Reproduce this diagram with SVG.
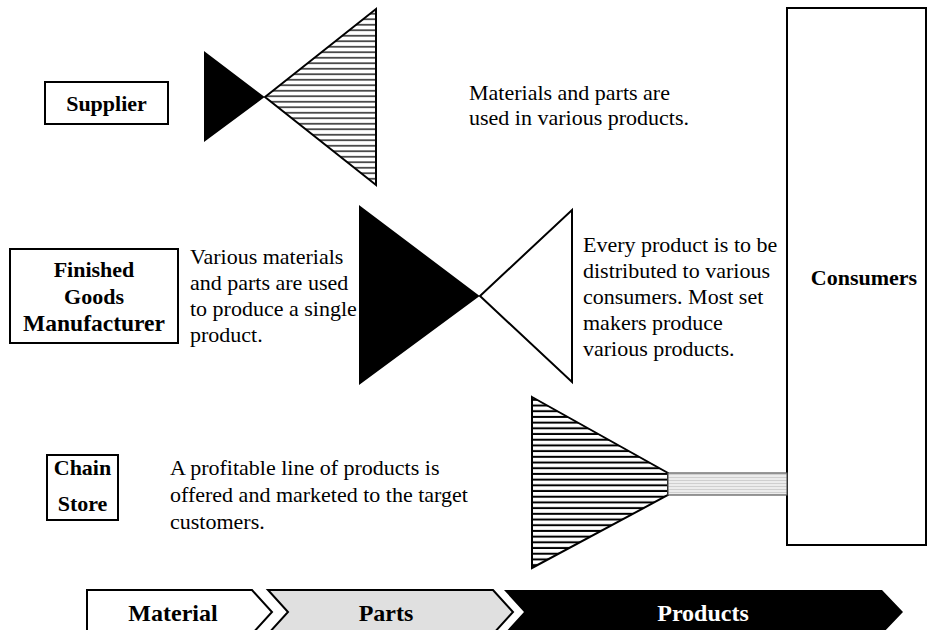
<svg xmlns="http://www.w3.org/2000/svg" width="930" height="630" viewBox="0 0 930 630">
  <style>
    .box { fill: #ffffff; stroke: #000000; stroke-width: 2; }
    .lbl { font-family: "Liberation Serif", "Times New Roman", serif; font-weight: bold; font-size: 22px; fill: #000000; text-anchor: middle; }
    .note { font-family: "Liberation Serif", "Times New Roman", serif; font-size: 22px; fill: #000000; }
    .tri { stroke: #000000; stroke-width: 2; stroke-linejoin: miter; }
    .stage { font-family: "Liberation Serif", "Times New Roman", serif; font-weight: bold; font-size: 24px; text-anchor: middle; }
  </style>
  <defs>
    <pattern id="hatchFine" patternUnits="userSpaceOnUse" width="10" height="5.5">
      <rect width="10" height="5.5" fill="#ffffff"/>
      <line x1="0" y1="2.75" x2="10" y2="2.75" stroke="#000000" stroke-width="1.3"/>
    </pattern>
    <pattern id="hatchBold" patternUnits="userSpaceOnUse" width="10" height="5.7" y="397">
      <rect width="10" height="5.7" fill="#ffffff"/>
      <line x1="0" y1="2.8" x2="10" y2="2.8" stroke="#000000" stroke-width="2"/>
    </pattern>
    <pattern id="hatchPale" patternUnits="userSpaceOnUse" width="10" height="3" y="473">
      <rect width="10" height="3" fill="#ececec"/>
      <line x1="0" y1="1.5" x2="10" y2="1.5" stroke="#c8c8c8" stroke-width="0.8"/>
    </pattern>
  </defs>

  <!-- Supplier row -->
  <g id="supplier">
    <rect class="box" x="45" y="82" width="123" height="42"/>
    <text class="lbl" x="106.5" y="111">Supplier</text>
  </g>
  <g id="supplier-shape">
    <polygon class="tri" points="205,53 263,97 205,140" fill="#000000"/>
    <polygon class="tri" points="265,97 376,9 376,185" fill="url(#hatchFine)"/>
  </g>
  <g id="supplier-note">
    <text class="note" x="469" y="100">Materials and parts are</text>
    <text class="note" x="469" y="125">used in various products.</text>
  </g>

  <!-- Finished goods manufacturer row -->
  <g id="manufacturer">
    <rect class="box" x="10" y="249" width="168" height="94"/>
    <text class="lbl" x="94" y="277">Finished</text>
    <text class="lbl" x="94" y="304">Goods</text>
    <text class="lbl" x="94" y="331" style="font-size:23.5px">Manufacturer</text>
  </g>
  <g id="manufacturer-note-in">
    <text class="note" x="190" y="264">Various materials</text>
    <text class="note" x="190" y="290">and parts are used</text>
    <text class="note" x="190" y="316">to produce a single</text>
    <text class="note" x="190" y="342">product.</text>
  </g>
  <g id="manufacturer-shape">
    <polygon class="tri" points="360,207 478,296 360,383" fill="#000000"/>
    <polygon class="tri" points="480,296 572,210 572,382" fill="#ffffff"/>
  </g>
  <g id="manufacturer-note-out">
    <text class="note" x="583" y="252">Every product is to be</text>
    <text class="note" x="583" y="278">distributed to various</text>
    <text class="note" x="583" y="304">consumers. Most set</text>
    <text class="note" x="583" y="330">makers produce</text>
    <text class="note" x="583" y="356">various products.</text>
  </g>

  <!-- Chain store row -->
  <g id="chain-store">
    <rect class="box" x="47" y="455" width="71" height="65"/>
    <text class="lbl" x="82.5" y="475">Chain</text>
    <text class="lbl" x="82.5" y="511">Store</text>
  </g>
  <g id="chain-store-note">
    <text class="note" x="170" y="475">A profitable line of products is</text>
    <text class="note" x="170" y="502">offered and marketed to the target</text>
    <text class="note" x="170" y="529">customers.</text>
  </g>
  <g id="chain-store-shape">
    <polygon class="tri" points="532,397 668,473 668,495 532,568" fill="url(#hatchBold)"/>
  </g>

  <!-- Consumers -->
  <g id="consumers">
    <rect class="box" x="787" y="8" width="139" height="537"/>
    <text class="lbl" x="864" y="285">Consumers</text>
  </g>

  <!-- Connectors -->
  <g id="connectors">
    <rect x="668" y="473" width="119" height="22" fill="url(#hatchPale)" stroke="#555555" stroke-width="1.2"/>
  </g>

  <!-- Value chain stages -->
  <g id="stage-material">
    <polygon points="87,590 252,590 272,612 252,634 87,634" fill="#ffffff" stroke="#000000" stroke-width="2"/>
    <text class="stage" x="173" y="621" fill="#000000">Material</text>
  </g>
  <g id="stage-parts">
    <polygon points="268,590 493,590 513,612 493,634 268,634 288,612" fill="#e0e0e0" stroke="#000000" stroke-width="2"/>
    <text class="stage" x="386" y="621" fill="#000000">Parts</text>
  </g>
  <g id="stage-products">
    <polygon points="504,590 882,590 903,612 882,634 504,634 524,612" fill="#000000"/>
    <text class="stage" x="703" y="621" fill="#ffffff">Products</text>
  </g>
</svg>
